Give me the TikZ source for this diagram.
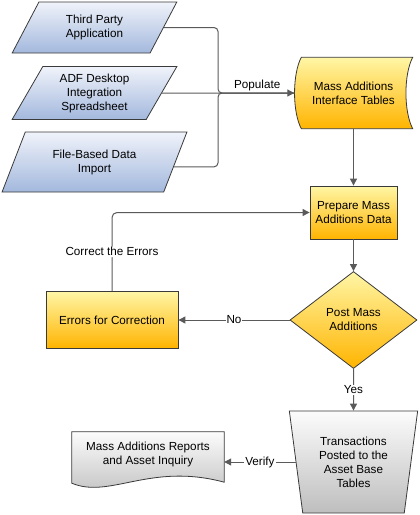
\documentclass[tikz,border=0pt]{standalone}
\usepackage{fontspec}
\setmainfont{Liberation Sans}
\usetikzlibrary{shapes.geometric, arrows.meta, backgrounds, calc}

\definecolor{linegray}{HTML}{5A5A5A}
\definecolor{edgegray}{HTML}{3A3A3A}
\definecolor{bluetop}{HTML}{F0F3FA}
\definecolor{bluebot}{HTML}{A3B8DD}
\definecolor{yeltop}{HTML}{FFF6A6}
\definecolor{yelbot}{HTML}{FFB400}
\definecolor{graytop}{HTML}{FCFCFC}
\definecolor{graybot}{HTML}{BEBEBE}

\begin{document}
\begin{tikzpicture}[
    x=1pt, y=-1pt,
    font=\fontsize{11.7}{14}\selectfont,
    base/.style={
        draw=edgegray,
        line width=0.8pt,
        align=center,
        inner sep=2pt
    },
    source/.style={
        base,
        trapezium,
        trapezium left angle=63,
        trapezium right angle=117,
        trapezium stretches=true,
        top color=bluetop,
        bottom color=bluebot,
        minimum width=165pt
    },
    process/.style={
        base,
        rectangle,
        top color=yeltop,
        bottom color=yelbot
    },
    decision/.style={
        base,
        diamond,
        aspect=1.31,
        inner sep=1pt,
        top color=yeltop,
        bottom color=yelbot,
        minimum width=127pt,
        minimum height=97pt
    },
    outline/.style={
        draw=edgegray,
        line width=0.8pt
    },
    line/.style={
        draw=linegray,
        line width=1pt
    },
    arrow/.style={
        line,
        -{Triangle[length=7pt, width=7pt]}
    },
    tag/.style={
        fill=white,
        inner sep=1pt
    }
]

\useasboundingbox (0,0) rectangle (420,515);

\node[source, minimum height=51pt] (third) at (94.5,27.5)
    {Third Party\\Application};

\node[source, minimum height=53pt] (adf) at (94.5,93)
    {ADF Desktop\\Integration\\Spreadsheet};

\node[source, minimum width=185pt, minimum height=60pt] (file) at (94.5,162)
    {File-Based Data\\Import};

\node[align=center, minimum width=118pt, minimum height=71pt] (mait) at (353.5,93)
    {Mass Additions\\Interface Tables};

\node[process, minimum width=87pt, minimum height=53pt] (prep) at (353.5,212.5)
    {Prepare Mass\\Additions Data};

\node[decision] (post) at (353.5,320)
    {Post Mass\\Additions};

\node[process, minimum width=132pt, minimum height=57pt] (err) at (112,320)
    {Errors for Correction};

\node[base, trapezium, trapezium left angle=100, trapezium right angle=100,
      trapezium stretches=true, minimum width=129pt, minimum height=102pt,
      top color=graytop, bottom color=graybot] (trans) at (353.5,462)
    {Transactions\\Posted to the\\Asset Base\\Tables};

\node[align=center, minimum width=152pt, minimum height=44pt, inner sep=0pt] (doc) at (148,454)
    {Mass Additions Reports\\and Asset Inquiry};

\begin{scope}[on background layer]
\path[outline, top color=yeltop, bottom color=yelbot]
    ([xshift=7pt]mait.north west) -- (mait.north east)
    .. controls ([xshift=-9pt, yshift=-17pt]mait.north east)
    and ([xshift=-9pt, yshift=17pt]mait.south east) .. (mait.south east)
    -- ([xshift=7pt]mait.south west)
    .. controls ([xshift=-2pt, yshift=17pt]mait.south west)
    and ([xshift=-2pt, yshift=-17pt]mait.north west) .. ([xshift=7pt]mait.north west)
    -- cycle;
\path[outline, top color=graytop, bottom color=graybot]
    (doc.north west) -- (doc.north east) -- ([yshift=-6pt]doc.south east)
    .. controls ([xshift=-74pt, yshift=14pt]doc.south east)
    and ([xshift=38pt, yshift=-23pt]doc.south west) .. ([yshift=-7pt]doc.south west)
    -- cycle;
\end{scope}

\coordinate (bus) at (218,93);
\coordinate (fileout) at ($(file.bottom right corner)!0.42!(file.top right corner)$);

\draw[line, rounded corners=4pt] (third.east) -| (bus) -- (mait.west);
\draw[line, rounded corners=4pt] (fileout) -| (bus) -- (mait.west);
\draw[arrow] (adf.east) -- node[pos=0.72, above, inner sep=2pt] {Populate} (mait.west);
\draw[arrow] (mait.south) -- (prep.north);
\draw[arrow] (prep.south) -- (post.north);
\draw[arrow] (post.west) -- node[tag] {No} (err.east);
\draw[arrow, rounded corners=5pt] (err.north) |- node[tag, pos=0.25] {Correct the Errors} (prep.west);
\draw[arrow] (post.south) -- node[tag] {Yes} (trans.north);
\draw[arrow] (trans.west) -- node[tag] {Verify} (trans.west -| doc.east);

\end{tikzpicture}
\end{document}
